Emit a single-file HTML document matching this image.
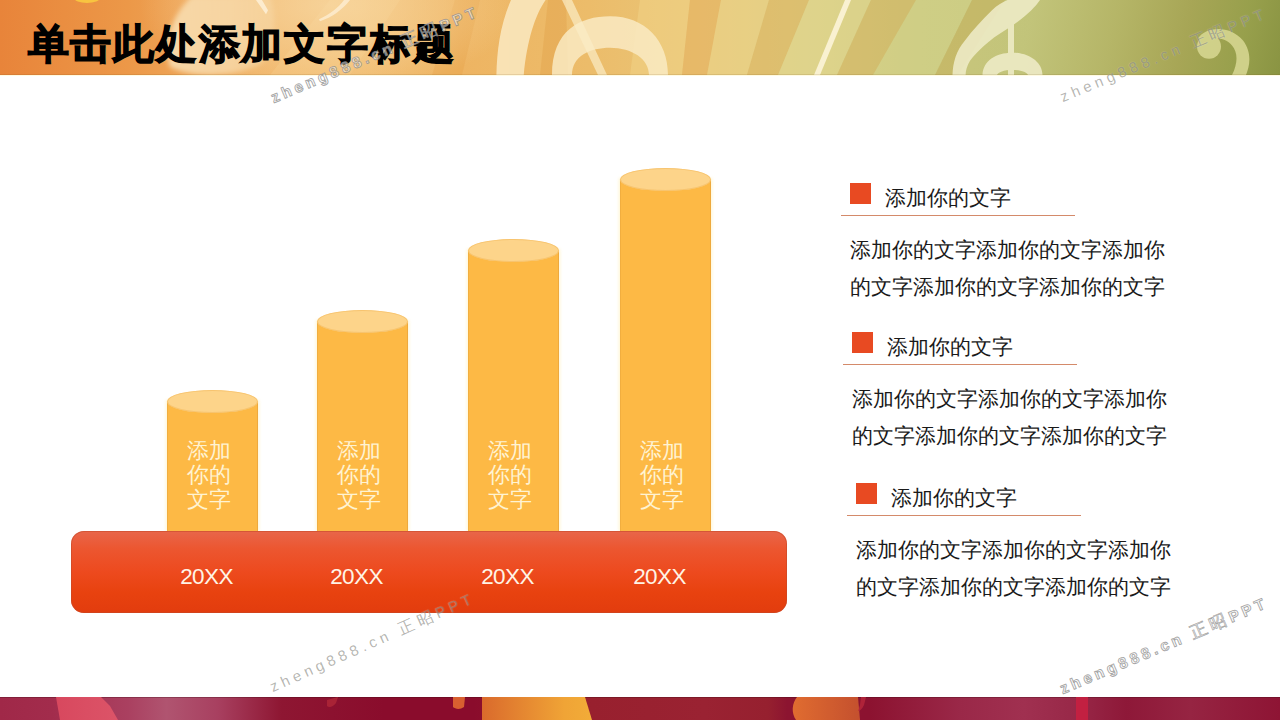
<!DOCTYPE html>
<html><head><meta charset="utf-8">
<style>
*{margin:0;padding:0;box-sizing:border-box}
html,body{width:1280px;height:720px;overflow:hidden;background:#fff;font-family:"Liberation Sans",sans-serif}
#hdr{position:absolute;left:0;top:0;width:1280px;height:75px;overflow:hidden;
background:linear-gradient(90deg,#e8843a 0%,#ec9848 10%,#f0b468 20%,#f0bc70 28%,#eeb462 36%,#ecbc6a 46%,#e8c678 55%,#dccb80 63%,#cac67c 72%,#c2c47a 80%,#b0b262 88%,#9aa250 94%,#8a9646 100%)}
#hdr svg{position:absolute;left:0;top:0}
#title{position:absolute;left:27.5px;top:16px;font-size:41px;font-weight:bold;color:#000;letter-spacing:1.8px;white-space:nowrap;line-height:56px;-webkit-text-stroke:1.3px #000}
#ftr{position:absolute;left:0;top:697px;width:1280px;height:23px;overflow:hidden;background:#8c0f2e}
#ftr svg{position:absolute;left:0;top:0}
.cyl{position:absolute;width:91px}
.cyl .body{position:absolute;left:0;width:91px;background:#fdb945;box-shadow:inset -1px 0 0 rgba(220,150,50,0.45),inset 1px 0 0 rgba(220,150,50,0.3),0 0 3px 1px rgba(255,236,170,0.55)}
.cyl .top{position:absolute;left:0;width:91px;height:23px;border-radius:50%;background:#fdd48a;box-shadow:inset 0 0 0 1px rgba(245,190,100,0.7)}
.cyl .txt{position:absolute;left:-4px;margin-top:1.5px;width:91px;text-align:center;color:#fff3d2;font-size:22px;line-height:24.8px}
#base{position:absolute;left:71px;top:531px;width:716px;height:81.5px;border-radius:13px;
background:linear-gradient(180deg,#e8664a 0%,#ec5630 22%,#ed4a1e 50%,#e8420f 75%,#e23c0e 100%);box-shadow:inset 0 0 0 1px rgba(196,72,40,0.55)}
.yr{position:absolute;top:563px;width:91px;text-align:center;color:#fff4e6;font-size:22.5px;letter-spacing:-0.6px;line-height:28px}
.blk{position:absolute}
.blk .sq{position:absolute;left:0;top:0;width:21px;height:21px;background:#e84a22}
.blk .hd{position:absolute;left:35px;top:3px;font-size:21px;line-height:24px;color:#1a1a1a;white-space:nowrap}
.blk .ln{position:absolute;left:-9px;top:32px;width:234px;height:1px;background:#d48a6a}
.blk .p{position:absolute;left:0;top:48px;font-size:21px;line-height:37.2px;color:#1a1a1a;white-space:nowrap}
.wm{position:absolute;white-space:nowrap;transform-origin:0 100%;line-height:16px}
.wmA{color:rgba(255,255,255,0.55);font-size:15.5px;font-weight:bold;letter-spacing:3.7px;-webkit-text-stroke:0.9px rgba(135,135,135,0.75)}
.wmA span{font-size:17px;font-weight:normal;-webkit-text-stroke:0.7px rgba(135,135,135,0.75)}
.wmB{color:rgba(80,80,70,0.42);font-size:15px;letter-spacing:4.2px;text-shadow:0 0 1px rgba(255,255,255,0.5)}
.wmB span{font-size:16px}
</style></head><body>
<div id="hdr">
<svg width="1280" height="75" viewBox="0 0 1280 74" preserveAspectRatio="none">
 <defs>
  <filter id="bl" x="-20%" y="-20%" width="140%" height="140%"><feGaussianBlur stdDeviation="2.5"/></filter>
  <linearGradient id="rg" x1="1000" y1="0" x2="1280" y2="70" gradientUnits="userSpaceOnUse">
   <stop offset="0" stop-color="#c4c67c" stop-opacity="0"/>
   <stop offset="0.12" stop-color="#c2c47a" stop-opacity="0.85"/>
   <stop offset="0.4" stop-color="#b6b668" stop-opacity="0.9"/>
   <stop offset="0.65" stop-color="#a8a656" stop-opacity="0.9"/>
   <stop offset="0.85" stop-color="#98a04c" stop-opacity="0.9"/>
   <stop offset="1" stop-color="#8a9442" stop-opacity="0.9"/>
  </linearGradient>
  <radialGradient id="glow" cx="330" cy="5" r="190" gradientUnits="userSpaceOnUse" gradientTransform="translate(330 5) scale(1 0.45) translate(-330 -5)">
   <stop offset="0" stop-color="#fbe2b4" stop-opacity="0.6"/>
   <stop offset="0.6" stop-color="#fbe0b0" stop-opacity="0.3"/>
   <stop offset="1" stop-color="#fbe0b0" stop-opacity="0"/>
  </radialGradient>
  <linearGradient id="pb" x1="0" x2="1" y1="0" y2="0">
   <stop offset="0" stop-color="#f8deb2" stop-opacity="0.9"/>
   <stop offset="0.6" stop-color="#f8dcae" stop-opacity="0.75"/>
   <stop offset="1" stop-color="#f8dcae" stop-opacity="0.45"/>
  </linearGradient>
 </defs>
 <!-- rays -->
 <g>
  <polygon points="330,0 400,0 350,74 270,74" fill="#f6cc88" opacity="0.35"/>
  <polygon points="455,0 480,0 462,74 432,74" fill="#e4a048" opacity="0.35"/>
  <polygon points="548,0 566,0 568,74 540,74" fill="#e0a048" opacity="0.4"/>
  <polygon points="640,0 690,0 682,74 630,74" fill="#f2d488" opacity="0.5"/>
  <polygon points="690,0 721,0 707,74 682,74" fill="#e6ae5c" opacity="0.55"/>
  <polygon points="721,0 769,0 747,74 707,74" fill="#eed68e" opacity="0.45"/>
  <polygon points="769,0 809,0 778,74 747,74" fill="#dcb460" opacity="0.5"/>
  <polygon points="809,0 871,0 837,74 778,74" fill="#e2dc96" opacity="0.5"/>
  <polygon points="871,0 916,0 873,74 837,74" fill="#d4b460" opacity="0.5"/>
  <polygon points="916,0 972,0 935,74 873,74" fill="#d4d690" opacity="0.45"/>
  <polygon points="972,0 1005,0 958,74 935,74" fill="#c4ae58" opacity="0.5"/>
  <rect x="990" y="0" width="290" height="74" fill="url(#rg)"/>
 </g>
 <rect x="120" y="0" width="440" height="74" fill="url(#glow)"/>
 <!-- yellow blob top-left -->
 <ellipse cx="87" cy="-2" rx="13" ry="5" fill="#f8c440"/>
 <!-- pale blob -->
 <path d="M170,66 C162,42 172,15 192,-4 L270,-4 C278,20 274,45 262,62 C240,76 195,78 170,66 Z" fill="url(#pb)" filter="url(#bl)"/>
 <path d="M256,0 L262,0 L268,10 L266,14 Z" fill="#fff6e6" opacity="0.7"/>
 <path d="M344,0 L350,0 C342,10 332,17 320,21 L319,19 C330,14 338,8 344,0 Z" fill="#fff6e6" opacity="0.6"/>
 <!-- clef 1 -->
 <g opacity="0.82" fill="#fbecc6">
 <path d="M496.4,74 C497,50 500,25 511,0 L545.6,0 C535,15 527,40 523.75,74 Z"/>
 <path fill-rule="evenodd" d="M552,74 C552,30 580,16 610,16 C645,16 668,40 668,74 Z M572,74 C572,55 590,47 610,47 C632,47 649,58 649,74 Z"/>
 </g>
 <path d="M562,0 L572,0 L607,74 L598,74 Z" fill="#fbecc6" opacity="0.7"/>
 <!-- thin line -->
 <path d="M845,0 L851,0 L820,74 L814,74 Z" fill="#fcf4d8" opacity="0.9"/>
 <!-- clef 2 -->
 <g opacity="0.88" fill="#efecc8">
 <path d="M952.5,74 C953,62 956,50 965,40 C972,30 982,20 992,10 C997,5 1003,2 1007.5,0 L1040,0 C1036,6 1028,14 1017,22 C1010,27 1003,31 994,37 C985,44 976,52 970,60 C967,65 965.6,70 965.6,74 Z"/>
 <rect x="1008" y="18" width="6" height="56"/>
 <path fill-rule="evenodd" d="M982.5,74 C983,60 996,52 1012,52 C1030,52 1042.5,62 1042.5,74 Z M997,74 C998,71 1004,69 1012,69 C1020,69 1027,71 1028,74 Z"/>
 </g>
 <!-- right curve (bass-clef like) -->
 <g opacity="0.9" fill="#d6d690">
 <circle cx="1209" cy="46" r="12"/>
 <path d="M1198,38 C1205,26 1230,24 1243,40 C1252,52 1250,64 1246,74 L1232,74 C1238,62 1238,52 1232,45 C1225,36 1210,36 1205,42 Z"/>
 </g>
</svg>
<div style="position:absolute;left:0;top:74px;width:1280px;height:1px;background:rgba(110,70,20,0.13)"></div>
<div id="title">单击此处添加文字标题</div>
</div>

<!-- cylinders -->
<div class="cyl" style="left:167px;top:390px">
 <div class="body" style="top:11px;height:130px"></div>
 <div class="top" style="top:0"></div>
 <div class="txt" style="top:47px">添加<br>你的<br>文字</div>
</div>
<div class="cyl" style="left:317px;top:310px">
 <div class="body" style="top:11px;height:210px"></div>
 <div class="top" style="top:0"></div>
 <div class="txt" style="top:127px">添加<br>你的<br>文字</div>
</div>
<div class="cyl" style="left:468px;top:239px">
 <div class="body" style="top:11px;height:281px"></div>
 <div class="top" style="top:0"></div>
 <div class="txt" style="top:198px">添加<br>你的<br>文字</div>
</div>
<div class="cyl" style="left:620px;top:168px">
 <div class="body" style="top:11px;height:352px"></div>
 <div class="top" style="top:0"></div>
 <div class="txt" style="top:269px">添加<br>你的<br>文字</div>
</div>

<div id="base"></div>
<div class="yr" style="left:161px">20XX</div>
<div class="yr" style="left:311px">20XX</div>
<div class="yr" style="left:462px">20XX</div>
<div class="yr" style="left:614px">20XX</div>

<!-- right blocks -->
<div class="blk" style="left:850px;top:183px">
 <div class="sq"></div><div class="hd">添加你的文字</div><div class="ln"></div>
 <div class="p">添加你的文字添加你的文字添加你<br>的文字添加你的文字添加你的文字</div>
</div>
<div class="blk" style="left:852px;top:332px">
 <div class="sq"></div><div class="hd">添加你的文字</div><div class="ln"></div>
 <div class="p">添加你的文字添加你的文字添加你<br>的文字添加你的文字添加你的文字</div>
</div>
<div class="blk" style="left:856px;top:483px">
 <div class="sq"></div><div class="hd">添加你的文字</div><div class="ln"></div>
 <div class="p">添加你的文字添加你的文字添加你<br>的文字添加你的文字添加你的文字</div>
</div>

<div style="position:absolute;left:0;top:75px;width:1280px;height:1px;background:rgba(255,246,205,0.6)"></div>
<div id="ftr">
<svg width="1280" height="23" viewBox="0 0 1280 23">
 <defs>
  <linearGradient id="fg" x1="0" x2="1280" y1="0" y2="0" gradientUnits="userSpaceOnUse">
   <stop offset="0" stop-color="#a02848"/>
   <stop offset="0.04" stop-color="#a22c4c"/>
   <stop offset="0.1" stop-color="#aa4060"/>
   <stop offset="0.13" stop-color="#b05470"/>
   <stop offset="0.17" stop-color="#a84060"/>
   <stop offset="0.22" stop-color="#8e1632"/>
   <stop offset="0.3" stop-color="#8a0c2c"/>
   <stop offset="0.37" stop-color="#8a0c2c"/>
   <stop offset="0.462" stop-color="#98202e"/>
   <stop offset="0.55" stop-color="#9a2232"/>
   <stop offset="0.6" stop-color="#96202f"/>
   <stop offset="0.615" stop-color="#8c1430"/>
   <stop offset="0.68" stop-color="#8c1230"/>
   <stop offset="0.75" stop-color="#9a2848"/>
   <stop offset="0.8" stop-color="#a03050"/>
   <stop offset="0.84" stop-color="#982848"/>
   <stop offset="0.88" stop-color="#8e1838"/>
   <stop offset="0.93" stop-color="#962442"/>
   <stop offset="1" stop-color="#8e1434"/>
  </linearGradient>
  <linearGradient id="og" x1="0" x2="1" y1="0" y2="0">
   <stop offset="0" stop-color="#da6a2c"/>
   <stop offset="0.75" stop-color="#f0a436"/>
   <stop offset="1" stop-color="#f2ac38"/>
  </linearGradient>
  <linearGradient id="og2" x1="0" x2="1" y1="0" y2="0">
   <stop offset="0" stop-color="#e06c30"/>
   <stop offset="1" stop-color="#c4502e"/>
  </linearGradient>
  <linearGradient id="pg" x1="0" x2="1" y1="0" y2="0">
   <stop offset="0" stop-color="#d8485e"/>
   <stop offset="1" stop-color="#dc5468"/>
  </linearGradient>
 </defs>
 <rect width="1280" height="23" fill="url(#fg)"/>
 <rect width="1280" height="1" fill="#3c0a14" opacity="0.3"/>
 <polygon points="56,0 101,0 110,9 118,23 60,23" fill="url(#pg)"/>
 <path d="M327,3 L338,0 L336,6 C333,10 329,11 327,9 Z" fill="#b02838" opacity="0.8"/>
 <polygon points="482,0 585,0 592,23 482,23" fill="url(#og)"/>
 <path d="M797,0 L858,0 L860,23 L796,23 C791,16 792,6 797,0 Z" fill="url(#og2)"/>
 <path d="M861,0 L866,0 L864,8 C862,12 860,14 858,14 L860,8 Z" fill="#b8283c" opacity="0.8"/>
 <rect x="1076" y="0" width="12" height="23" fill="#c62040" opacity="0.9"/>
 <path d="M453,0 L465,0 L464,10 C460,13 455,12 453,10 Z" fill="#d86030"/>
</svg>
</div>

<!-- watermarks -->
<div class="wm wmA" style="left:275px;top:90px;transform:rotate(-23deg)">zheng888.cn <span>正昭</span>PPT</div>
<div class="wm wmB" style="left:1064px;top:89px;transform:rotate(-22.5deg)">zheng888.cn <span>正昭</span>PPT</div>
<div class="wm wmB" style="left:274px;top:679px;transform:rotate(-24deg)">zheng888.cn <span>正昭</span>PPT</div>
<div class="wm wmA" style="left:1064px;top:681px;transform:rotate(-23deg)">zheng888.cn <span>正昭</span>PPT</div>
</body></html>
